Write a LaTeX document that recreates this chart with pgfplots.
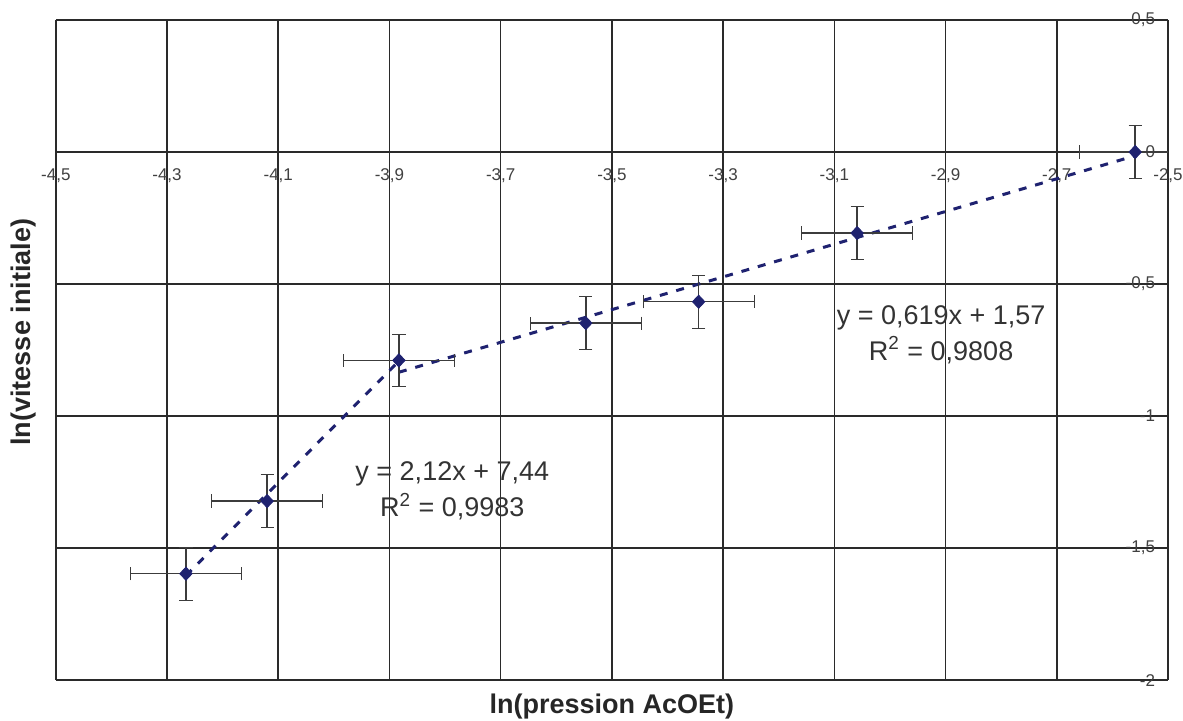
\documentclass[border=0pt]{standalone}
\usepackage{pgfplots}
\pgfplotsset{compat=1.18}
\usepackage{fontspec}
\setmainfont{Liberation Sans}

\definecolor{navy}{HTML}{1F2270}
\definecolor{gridc}{HTML}{2A2A2A}
\definecolor{errc}{HTML}{3C3C3C}

\begin{document}
\begin{tikzpicture}
\begin{axis}[
    scale only axis, width=556bp, height=330bp,
    xmin=-4.5, xmax=-2.5, ymin=-2, ymax=0.5,
    axis x line=middle, axis y line=right,
    axis line style={-, gridc, line width=0.8bp},
    xtick={-4.5,-4.3,-4.1,-3.9,-3.7,-3.5,-3.3,-3.1,-2.9,-2.7,-2.5},
    ytick={-2,-1.5,-1,-0.5,0,0.5},
    grid=major, grid style={gridc, line width=0.8bp},
    major tick length=0pt,
    hide obscured x ticks=false, hide obscured y ticks=false,
    /pgf/number format/use comma,
    /pgf/number format/assume math mode=true,
    ticklabel style={font=\fontsize{8.5bp}{9bp}\selectfont, text=black!75},
    xticklabel style={anchor=north, yshift=-5bp},
    yticklabel style={anchor=east, xshift=-3bp},
    xlabel={ln(pression AcOEt)},
    ylabel={ln(vitesse initiale)},
    every axis x label/.style={at={(rel axis cs:0.5,-0.0403)}, anchor=center,
        font=\fontsize{13.5bp}{15bp}\selectfont\bfseries, text=black!85},
    every axis y label/.style={at={(rel axis cs:-0.0293,0.527)}, anchor=center, rotate=90,
        font=\fontsize{13.5bp}{15bp}\selectfont\bfseries, text=black!85},
]
% trend lines (Excel fits)
\addplot[navy, line width=1.5bp, dash pattern=on 4bp off 4.5bp] coordinates {
    (-4.266,-1.604) (-3.883,-0.792)
};
\addplot[navy, line width=1.5bp, dash pattern=on 4bp off 4.5bp] coordinates {
    (-3.883,-0.834) (-2.559,-0.014)
};
% measured points
\addplot[only marks, mark=diamond*, mark size=3.3bp, mark options={navy, fill=navy, xscale=1.25},
    error bars/.cd, x dir=both, x explicit, y dir=both, y explicit,
    error bar style={errc, line width=0.75bp}]
coordinates {
    (-4.266,-1.597) +- (0.1,0.1)
    (-4.120,-1.322) +- (0.1,0.1)
    (-3.883,-0.789) +- (0.1,0.1)
    (-3.547,-0.648) +- (0.1,0.1)
    (-3.344,-0.567) +- (0.1,0.1)
    (-3.059,-0.307) +- (0.1,0.1)
    (-2.559, 0.000) +- (0.1,0.1)
};
\node[align=center, font=\fontsize{13.5bp}{18bp}\selectfont, text=black!80]
    at (axis cs:-3.787,-1.284) {y = 2,12x + 7,44\\R\textsuperscript{2} = 0,9983};
\node[align=center, font=\fontsize{13.5bp}{18bp}\selectfont, text=black!80]
    at (axis cs:-2.908,-0.691) {y = 0,619x + 1,57\\R\textsuperscript{2} = 0,9808};
\coordinate (sw) at (rel axis cs:0,0);
\coordinate (ne) at (rel axis cs:1,1);
\end{axis}
\pgfresetboundingbox
\path[use as bounding box] ([shift={(-27.9bp,-20bp)}]sw) rectangle ([shift={(7.5bp,10bp)}]ne);
\end{tikzpicture}
\end{document}
